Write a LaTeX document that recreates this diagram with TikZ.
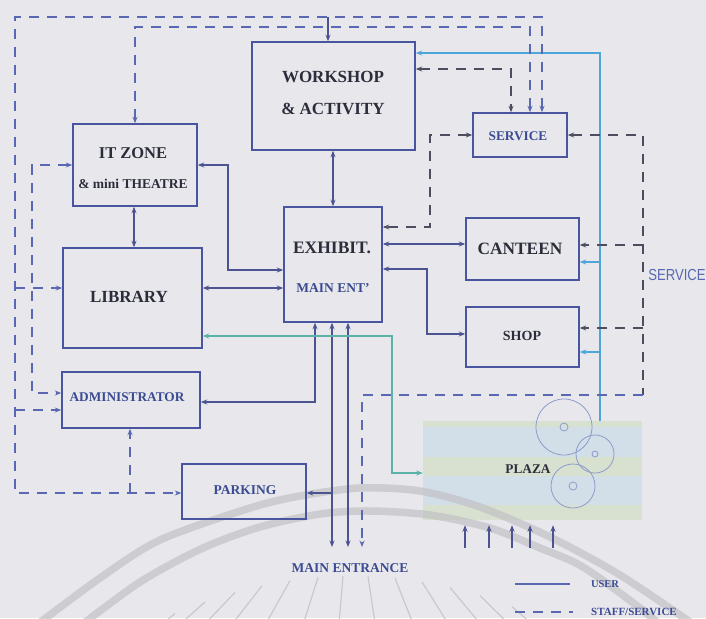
\documentclass[tikz,border=0pt]{standalone}
\usepackage{fontspec}
\setmainfont{Liberation Serif}
\newfontfamily\sansf{Liberation Sans}
\usetikzlibrary{arrows.meta,calc}
\definecolor{bg}{HTML}{E8E8EC}
\definecolor{boxc}{HTML}{4A55A0}
\definecolor{txtc}{HTML}{2B2D3A}
\definecolor{bluetxt}{HTML}{3B4B92}
\definecolor{solc}{HTML}{4B5390}
\definecolor{dshc}{HTML}{5A68B2}
\definecolor{dgc}{HTML}{4C4E60}
\definecolor{cyc}{HTML}{4DA6DA}
\definecolor{tlc}{HTML}{5BB3A8}
\definecolor{plzc}{HTML}{D2DEE8}
\definecolor{plzg}{HTML}{D8E0D0}
\definecolor{circc}{HTML}{8C9CCB}
\definecolor{wmc}{HTML}{C2C2C6}
\begin{document}
\begin{tikzpicture}[x=1pt,y=-1pt,
  >={Stealth[length=6.5pt,width=5pt]},
  box/.style={draw=boxc,line width=1.5pt,inner sep=0pt},
  lbl/.style={inner sep=0pt,text=txtc},
  blbl/.style={inner sep=0pt,text=bluetxt},
  sol/.style={draw=solc,line width=1.3pt},
  dsh/.style={draw=dshc,line width=1.4pt,dash pattern=on 10pt off 8pt},
  dshg/.style={draw=dgc,line width=1.4pt,dash pattern=on 10pt off 8pt},
  cy/.style={draw=cyc,line width=1.2pt},
  tl/.style={draw=tlc,line width=1.2pt},
  wm/.style={draw=wmc,line width=7.5pt,opacity=0.7},
  ray/.style={draw=wmc,line width=1.2pt,opacity=0.8}]
\fill[bg] (0,0) rectangle (706,618);
\useasboundingbox (0,0) rectangle (706,618);

% plaza
\node[fill=plzc,minimum width=219pt,minimum height=99pt,inner sep=0pt] (plaza) at (532.5,470.5) {};
\fill[plzg] (423,421) rectangle (642,427);
\fill[plzg] (423,457) rectangle (642,476);
\fill[plzg] (423,505) rectangle (642,520);
\draw[circc,line width=0.8pt] (564,427) circle (28pt) (564,427) circle (4pt);
\draw[circc,line width=0.8pt] (595,454) circle (19pt) (595,454) circle (3pt);
\draw[circc,line width=0.8pt] (573,486) circle (22pt) (573,486) circle (4pt);

% watermark
\begin{scope}
\clip (0,0) rectangle (706,618);
\draw[wm] plot[smooth] coordinates {(30,630) (100,578) (160,540) (250,508) (300,496) (360,488) (420,491) (480,507) (550,537) (620,575) (690,622)};
\draw[wm] plot[smooth] coordinates {(75,630) (140,582) (203,548) (260,527) (320,514) (370,511) (430,515) (490,528) (540,548) (583,567) (640,608) (660,625)};
\foreach \sx in {175,205,235,262,290,318,343,368,395,422,450,480,512,545}{
  \pgfmathsetmacro\sy{576+(0.03464*(\sx-352))^2}
  \pgfmathsetmacro\tt{180/(\sy-470)}
  \pgfmathsetmacro\ex{352+(\sx-352)*\tt}
  \draw[ray] (\sx,\sy) -- (\ex,650);
}
\end{scope}

% boxes
\node[box,minimum width=163pt,minimum height=108pt] (ws) at (333.5,96) {};
\node[box,minimum width=124pt,minimum height=82pt] (it) at (135,165) {};
\node[box,minimum width=139pt,minimum height=100pt] (lib) at (132.5,298) {};
\node[box,minimum width=138pt,minimum height=56pt] (adm) at (131,400) {};
\node[box,minimum width=98pt,minimum height=115pt] (ex) at (333,264.5) {};
\node[box,minimum width=94pt,minimum height=44pt] (srv) at (520,135) {};
\node[box,minimum width=113pt,minimum height=62pt] (can) at (522.5,249) {};
\node[box,minimum width=113pt,minimum height=60pt] (shop) at (522.5,337) {};
\node[box,minimum width=124pt,minimum height=55pt] (park) at (244,491.5) {};

% labels
\node[lbl,font=\fontsize{17}{17}\selectfont\bfseries] (tws1) at (333,77) {WORKSHOP};
\node[lbl,font=\fontsize{17}{17}\selectfont\bfseries] (tws2) at (333,109) {\& ACTIVITY};
\node[lbl,font=\fontsize{16.5}{17}\selectfont\bfseries] (tit1) at (133,153) {IT ZONE};
\node[lbl,font=\fontsize{13.5}{14}\selectfont\bfseries] (tit2) at (133,184) {\& mini THEATRE};
\node[lbl,font=\fontsize{17}{17}\selectfont\bfseries] (tlib) at (129,297) {LIBRARY};
\node[blbl,font=\fontsize{13.3}{14}\selectfont\bfseries] (tadm) at (127,397) {ADMINISTRATOR};
\node[lbl,font=\fontsize{17.5}{18}\selectfont\bfseries] (tex1) at (332,248) {EXHIBIT.};
\node[blbl,font=\fontsize{13.5}{14}\selectfont\bfseries] (tex2) at (333,288) {MAIN ENT'};
\node[blbl,font=\fontsize{13.3}{14}\selectfont\bfseries] (tsrv) at (518,136) {SERVICE};
\node[lbl,font=\fontsize{17.3}{18}\selectfont\bfseries] (tcan) at (520,249) {CANTEEN};
\node[lbl,font=\fontsize{14}{14}\selectfont\bfseries] (tshop) at (522,336) {SHOP};
\node[blbl,font=\fontsize{13.5}{14}\selectfont\bfseries] (tpark) at (245,490) {PARKING};
\node[lbl,font=\fontsize{13.3}{14}\selectfont\bfseries] (tplaza) at (528,469) {PLAZA};
\node[blbl,font=\fontsize{13.5}{14}\selectfont\bfseries] (tme) at (350,568) {MAIN ENTRANCE};
\node[inner sep=0pt,text=dshc,font=\sansf\fontsize{16}{16}\selectfont,xscale=0.82] (tsvc) at (677,275) {SERVICE};
\node[blbl,font=\fontsize{10.5}{11}\selectfont\bfseries] (tuser) at (605,584) {USER};
\node[blbl,font=\fontsize{11}{11}\selectfont\bfseries] (tstaff) at (634,612) {STAFF/SERVICE};

% free-end coordinates
\coordinate (me1) at (332,547);
\coordinate (me2) at (348,547);
\coordinate (me3) at (362,547);
\coordinate (pj) at (332,493);
\coordinate (wsin) at (328,17);

% solid user connections
\draw[sol,<->] (ws.south -| ex.north) -- (ex.north);
\draw[sol,<->] (it.south -| 134,0) -- (lib.north -| 134,0);
\draw[sol,<->] (it.east) -| (228,270) -- (ex.west |- 0,270);
\draw[sol,<->] (lib.east |- 0,288) -- (ex.west |- 0,288);
\draw[sol,<->] (ex.east |- 0,244) -- (can.west |- 0,244);
\draw[sol,<->] (ex.east |- 0,269) -| (427,334) -- (shop.west |- 0,334);
\draw[sol,<->] (ex.south -| 315,0) |- (adm.east |- 0,402);
\draw[sol,<->] (ex.south -| me1) -- (me1);
\draw[sol,<->] (ex.south -| me2) -- (me2);
\draw[sol,->] (pj) -- (park.east |- pj);
\draw[sol,->] (wsin) -- (ws.north -| wsin);
\foreach \x in {465,489,512,530,553}{
  \coordinate (pa\x) at (\x,548);
  \draw[sol,->,shorten >=5pt] (pa\x) -- (plaza.south -| pa\x);
}

% cyan
\draw[cy,->] (plaza.north -| 600,0) |- (ws.east |- 0,53);
\draw[cy,->] (600,262) -- (can.east |- 0,262);
\draw[cy,->] (600,352) -- (shop.east |- 0,352);

% teal
\draw[tl,<->] (lib.east |- 0,336) -| (392,473) -- (plaza.west |- 0,473);

% dashed blue
\draw[dsh,<->] (srv.north -| 542,0) |- (15,17) |- (park.west |- pj);
\draw[dsh,->] (130,493) -- (adm.south -| 130,0);
\draw[dsh,->] (15,410) -- (adm.west |- 0,410);
\draw[dsh,->] (15,288) -- (lib.west |- 0,288);
\draw[dsh,<->] (srv.north -| 530,0) |- (135,27) -- (it.north -| 135,0);
\draw[dsh,<->] (it.west |- 0,165) -| (32,393) -- (adm.west |- 0,393);

% dashed grey
\draw[dshg,<-] (srv.east) -| (643,395);
\draw[dsh,->] (643,395) -| (me3);
\draw[dshg,->] (643,245) -- (can.east |- 0,245);
\draw[dshg,->] (643,328) -- (shop.east |- 0,328);
\draw[dshg,<->] (ws.east |- 0,69) -| (srv.north -| 511,0);
\draw[dshg,<->] (srv.west) -| (430,227) -- (ex.east |- 0,227);

% legend
\coordinate (l1a) at (515,584);
\coordinate (l1b) at (570,584);
\coordinate (l2a) at (515,612);
\coordinate (l2b) at (573,612);
\draw[draw=dshc,line width=1.3pt] (l1a) -- (l1b);
\draw[dsh] (l2a) -- (l2b);
\end{tikzpicture}
\end{document}
